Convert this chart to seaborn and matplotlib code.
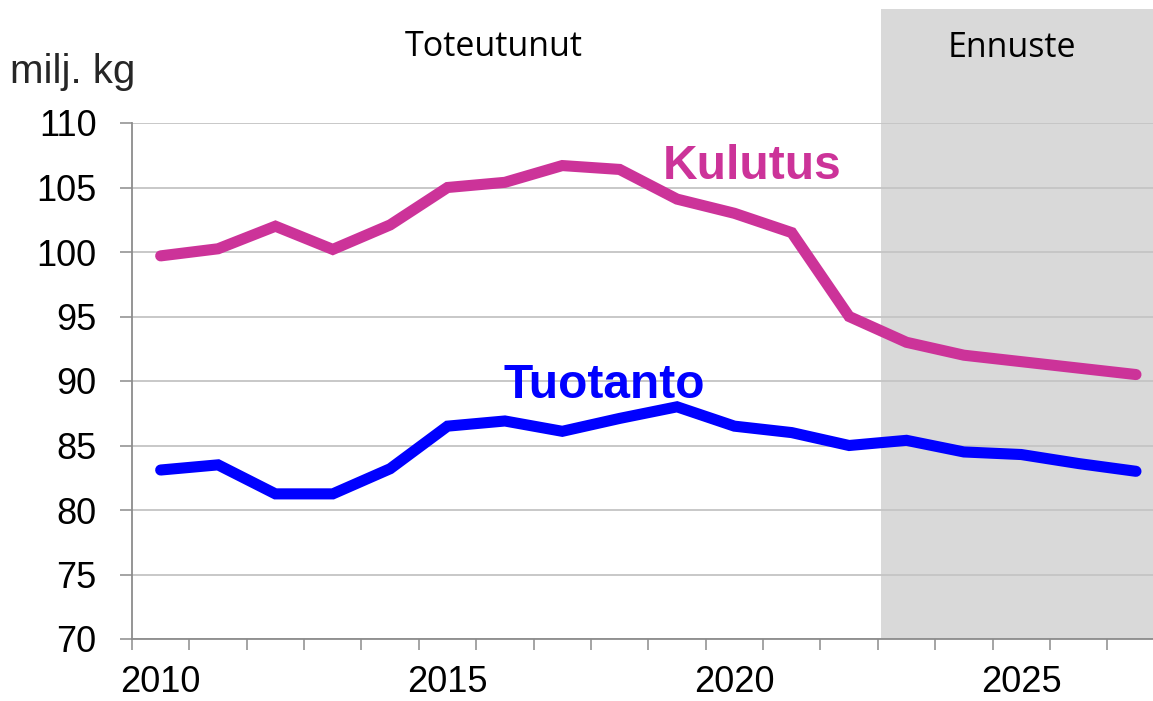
import numpy as np
import pandas as pd
import matplotlib
matplotlib.use("Agg")
import matplotlib.pyplot as plt
from matplotlib.patches import Rectangle
from matplotlib.ticker import FixedLocator
import seaborn as sns

# ---- data ----
years = list(range(2010, 2028))
kulutus = [99.7, 100.25, 102.0, 100.2, 102.1, 105.0, 105.4, 106.7, 106.4, 104.1,
           103.0, 101.5, 95.0, 93.0, 92.0, 91.5, 91.0, 90.5]
tuotanto = [83.1, 83.5, 81.25, 81.25, 83.2, 86.5, 86.9, 86.1, 87.1, 88.0,
            86.5, 86.0, 85.0, 85.4, 84.5, 84.3, 83.6, 83.0]
series_names = ["Kulutus", "Tuotanto"]
series_colors = ["#CC3399", "#0000FF"]
y_ticks = [70, 75, 80, 85, 90, 95, 100, 105, 110]
x_labels = [2010, 2015, 2020, 2025]
forecast_start = 2022.55
y_unit = "milj. kg"
period_labels = ["Toteutunut", "Ennuste"]

df = pd.DataFrame({
    "Vuosi": years * 2,
    "Arvo": kulutus + tuotanto,
    "Sarja": [series_names[0]] * len(years) + [series_names[1]] * len(years),
})

sns.set_style("white")
plt.rcParams["font.family"] = ["Liberation Sans", "DejaVu Sans"]

W, H = 1153, 701
fig = plt.figure(figsize=(W / 100, H / 100), dpi=100)
left_px, right_px, top_px, bottom_px = 132, 1153, 123, 639
ax = fig.add_axes([left_px / W, 1 - bottom_px / H, (right_px - left_px) / W, (bottom_px - top_px) / H])

x0 = 2009.5
x1 = x0 + (right_px - left_px) / 57.37
ax.set_xlim(x0, x1)
ax.set_ylim(70, 110)

# forecast shading (extends above the axes)
ax.add_patch(Rectangle((forecast_start, 0), x1 - forecast_start, (bottom_px - 9) / (bottom_px - top_px),
                       transform=ax.get_xaxis_transform(), facecolor="#D9D9D9",
                       edgecolor="none", clip_on=False, zorder=0))

# grid
for yv in y_ticks:
    ax.axhline(yv, color="#C4C4C4", lw=1.3, zorder=1)

sns.lineplot(data=df, x="Vuosi", y="Arvo", hue="Sarja", palette=series_colors,
             linewidth=8, legend=False, ax=ax, zorder=3)
for ln in ax.get_lines():
    ln.set_solid_capstyle("round")
    ln.set_solid_joinstyle("miter")

ax.set_xlabel("")
ax.set_ylabel("")

for s in ["top", "right"]:
    ax.spines[s].set_visible(False)
for s in ["left", "bottom"]:
    ax.spines[s].set_color("#8C8C8C")
    ax.spines[s].set_linewidth(1.3)
    ax.spines[s].set_zorder(4)

ax.set_yticks(y_ticks)
ax.set_yticklabels([str(v) for v in y_ticks])
ax.tick_params(axis="y", which="major", length=8.6, width=1.1, color="#8C8C8C",
               pad=17, labelsize=26, labelcolor="black", left=True)

ax.xaxis.set_major_locator(FixedLocator(x_labels))
ax.set_xticklabels([str(v) for v in x_labels])
ax.xaxis.set_minor_locator(FixedLocator(np.arange(2009.5, 2028.0, 1.0)))
ax.tick_params(axis="x", which="major", length=0, pad=19, labelsize=26, labelcolor="black", bottom=True)
ax.tick_params(axis="x", which="minor", length=8, width=1.1, color="#8C8C8C", bottom=True)

# series labels
ax.text(2020.31, 105.65, series_names[0], color=series_colors[0], fontsize=34.5,
        fontweight="bold", ha="center", va="baseline", zorder=5)
ax.text(2017.73, 88.68, series_names[1], color=series_colors[1], fontsize=34.5,
        fontweight="bold", ha="center", va="baseline", zorder=5)

# period labels
fig.text(494 / W, 1 - 56 / H, period_labels[0], fontsize=24.5, family=["Open Sans", "DejaVu Sans"],
         color="black", ha="center", va="baseline")
fig.text(1012 / W, 1 - 57 / H, period_labels[1], fontsize=24.5, family=["Open Sans", "DejaVu Sans"],
         color="black", ha="center", va="baseline")

fig.text(10 / W, 1 - 83 / H, y_unit, fontsize=29, ha="left", va="baseline")

fig.savefig("out.png", dpi=100)
